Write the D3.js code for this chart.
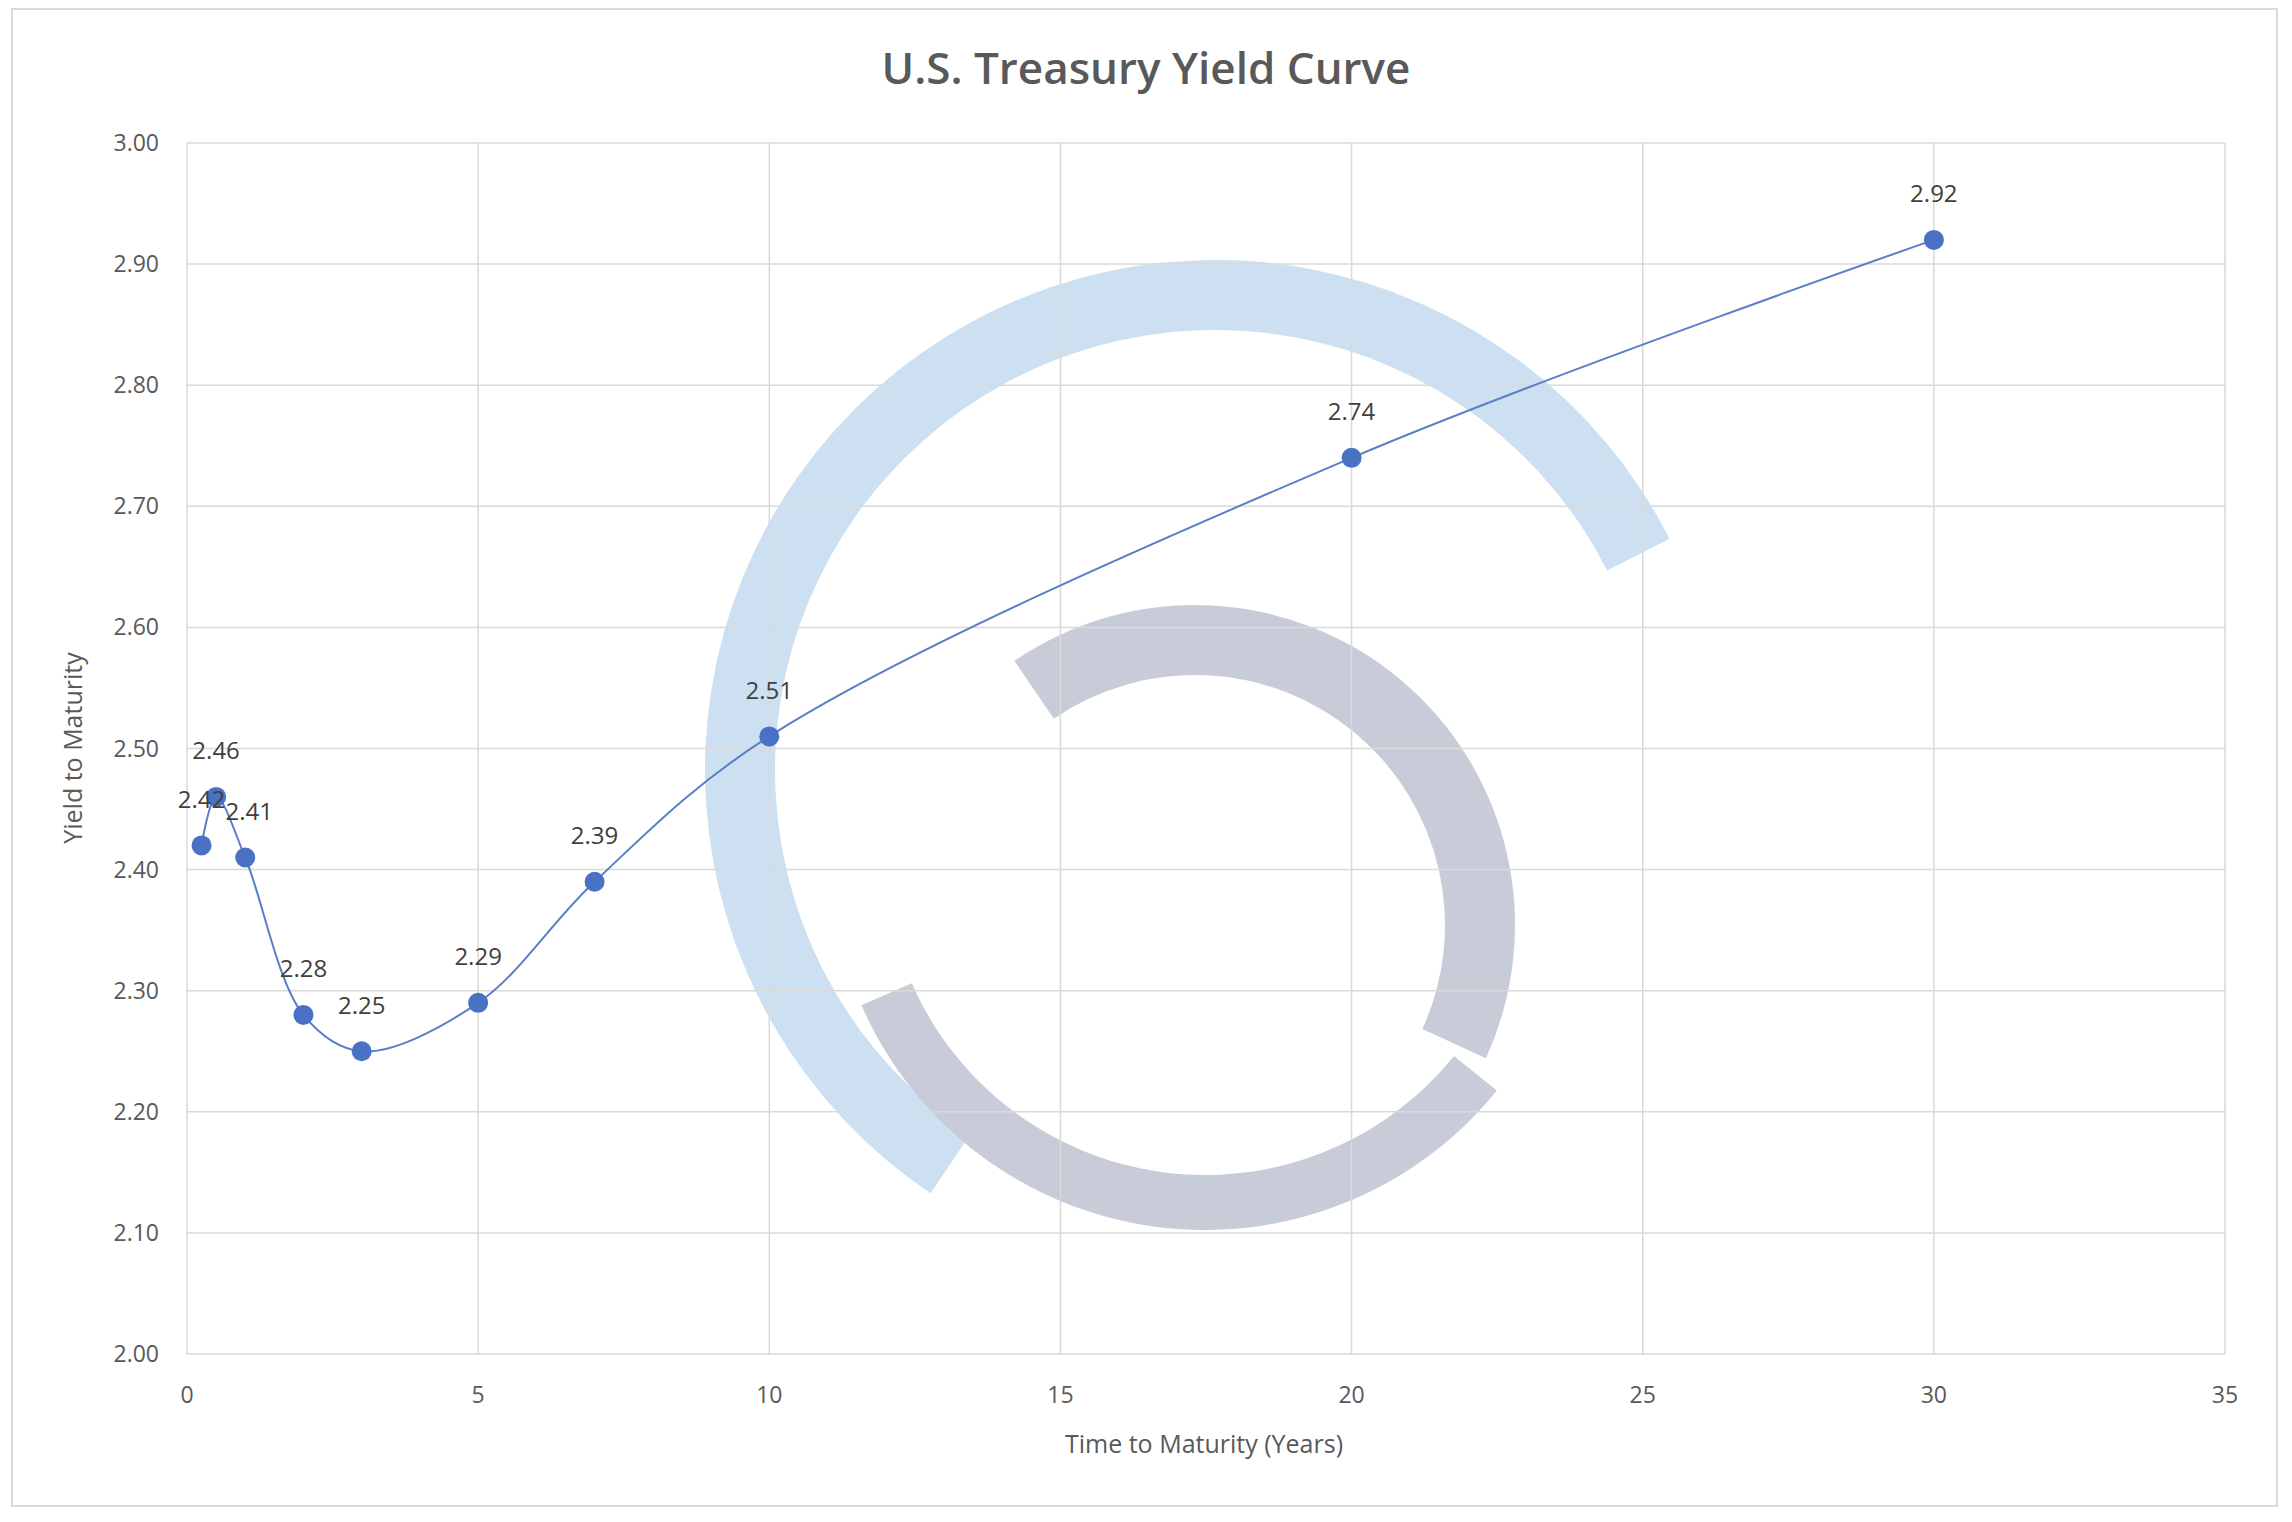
<!DOCTYPE html>
<html>
<head>
<meta charset="utf-8">
<script src="https://d3js.org/d3.v7.min.js"></script>
<style>
  body { margin: 0; background: #fff; }
  text { font-family: "Open Sans", "DejaVu Sans", sans-serif; }
</style>
</head>
<body>
<svg id="chart" width="2292" height="1522"></svg>
<script>
// maturities in years and yields
const maturities = [0.25, 0.5, 1, 2, 3, 5, 7, 10, 20, 30];
const yields = [2.42, 2.46, 2.41, 2.28, 2.25, 2.29, 2.39, 2.51, 2.74, 2.92];
const xTicks = [0, 5, 10, 15, 20, 25, 30, 35];
const yTicks = [2.0, 2.1, 2.2, 2.3, 2.4, 2.5, 2.6, 2.7, 2.8, 2.9, 3.0];

const svg = d3.select("#chart");
const plotLeft = 187, plotRight = 2225, plotTop = 143, plotBottom = 1354;

// outer frame
svg.append("rect").attr("x", 12).attr("y", 9).attr("width", 2265).attr("height", 1497)
  .attr("fill", "#fff").attr("stroke", "#d9d9d9").attr("stroke-width", 2);

const x = d3.scaleLinear().domain([0, 35]).range([plotLeft, plotRight]);
const y = d3.scaleLinear().domain([2, 3]).range([plotBottom, plotTop]);

// watermark (logo behind the plot)
const wm = svg.append("g").attr("opacity", 0.65);
const blueArc = d3.arc().innerRadius(440).outerRadius(510).startAngle(-2.55).endAngle(1.1);
wm.append("path").attr("d", blueArc()).attr("transform", "translate(1215,770)")
  .attr("fill", "#b3d0ea");
const grayArc1 = d3.arc().innerRadius(250).outerRadius(320).startAngle(-0.6).endAngle(2.0);
wm.append("path").attr("d", grayArc1()).attr("transform", "translate(1195,925)")
  .attr("fill", "#aab2c4");
const grayArc2 = d3.arc().innerRadius(320).outerRadius(375).startAngle(2.25).endAngle(4.3);
wm.append("path").attr("d", grayArc2()).attr("transform", "translate(1205,855)")
  .attr("fill", "#aab2c4");

// gridlines
svg.append("g").selectAll("line").data(yTicks).join("line")
  .attr("x1", plotLeft).attr("x2", plotRight).attr("y1", d => y(d)).attr("y2", d => y(d))
  .attr("stroke", "#d9d9d9").attr("stroke-width", 1.5);
svg.append("g").selectAll("line").data(xTicks).join("line")
  .attr("y1", plotTop).attr("y2", plotBottom).attr("x1", d => x(d)).attr("x2", d => x(d))
  .attr("stroke", "#d9d9d9").attr("stroke-width", 1.5);

// tick labels
svg.append("g").selectAll("text").data(yTicks).join("text")
  .attr("x", plotLeft - 28).attr("y", d => y(d)).attr("dy", "0.35em")
  .attr("text-anchor", "end").attr("font-size", 23).attr("fill", "#595959")
  .text(d => d.toFixed(2));
svg.append("g").selectAll("text").data(xTicks).join("text")
  .attr("x", d => x(d)).attr("y", 1395).attr("dy", "0.35em")
  .attr("text-anchor", "middle").attr("font-size", 23).attr("fill", "#595959")
  .text(d => d);

// titles
svg.append("text").attr("x", 1146).attr("y", 69).attr("dy", "0.35em")
  .attr("text-anchor", "middle").attr("font-size", 44).attr("font-weight", 600)
  .attr("fill", "#595959").text("U.S. Treasury  Yield Curve");
svg.append("text").attr("x", 1204).attr("y", 1444).attr("dy", "0.35em")
  .attr("text-anchor", "middle").attr("font-size", 25).attr("fill", "#595959")
  .text("Time to Maturity (Years)");
svg.append("text").attr("transform", "translate(73,748) rotate(-90)").attr("dy", "0.35em")
  .attr("text-anchor", "middle").attr("font-size", 25).attr("fill", "#595959")
  .text("Yield to Maturity");

// line and points
const pts = maturities.map((m, i) => [m, yields[i]]);
const line = d3.line().x(d => x(d[0])).y(d => y(d[1])).curve(d3.curveCatmullRom.alpha(0.5));
svg.append("path").datum(pts).attr("d", line).attr("fill", "none")
  .attr("stroke", "#5a7fc8").attr("stroke-width", 2);
svg.append("g").selectAll("circle").data(pts).join("circle")
  .attr("cx", d => x(d[0])).attr("cy", d => y(d[1])).attr("r", 10)
  .attr("fill", "#4a72c4");
svg.append("g").selectAll("text").data(pts).join("text")
  .attr("x", d => x(d[0]) + (d[0] === 1 ? 4 : 0)).attr("y", d => y(d[1]) - 46).attr("dy", "0.35em")
  .attr("text-anchor", "middle").attr("font-size", 24).attr("fill", "#404040")
  .text(d => d[1].toFixed(2));
</script>
</body>
</html>
